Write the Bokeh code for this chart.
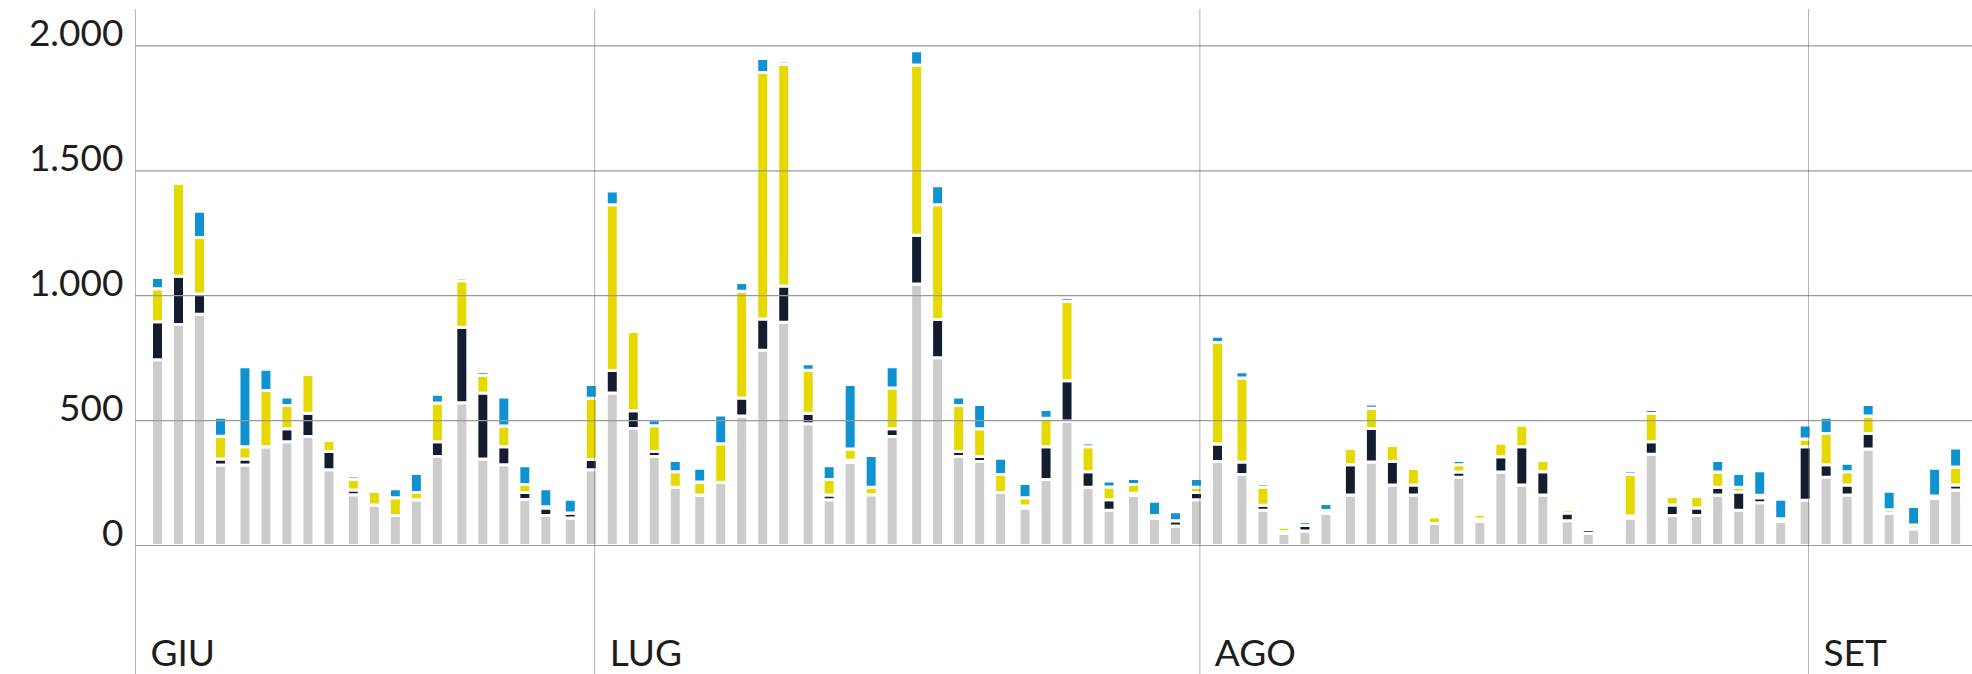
import numpy as np
from bokeh.plotting import figure
from bokeh.models import ColumnDataSource, Range1d
from bokeh.core.properties import value
from bokeh.embed import file_html
from bokeh.resources import INLINE

# ---- data ----
gray = [744, 885, 926, 322, 322, 395, 415, 436, 303, 203,
        162, 120, 183, 356, 571, 346, 323, 184, 120, 110,
        303, 610, 468, 356, 233, 202, 252, 518, 782, 894,
        487, 183, 333, 203, 436, 1047, 752, 356, 336, 212,
        150, 264, 498, 233, 141, 201, 108, 78, 183, 336,
        284, 141, 48, 58, 128, 202, 334, 242, 202, 88,
        273, 96, 294, 242, 202, 99, 49, 12, 110, 365,
        120, 120, 202, 141, 171, 97, 181, 273, 202, 386,
        128, 67, 188, 222, 240]
navy = [152, 193, 81, 24, 24, 0, 52, 93, 73, 19,
        0, 0, 0, 59, 303, 264, 72, 28, 30, 20,
        41, 91, 71, 20, 0, 0, 0, 72, 125, 145,
        42, 19, 8, 0, 31, 195, 153, 20, 20, 0,
        8, 131, 162, 62, 42, 8, 0, 21, 29, 70,
        50, 20, 8, 22, 0, 121, 134, 94, 40, 0,
        21, 10, 61, 153, 93, 31, 16, 0, 8, 50,
        42, 30, 31, 73, 20, 10, 214, 50, 40, 62,
        0, 0, 0, 20, 44]
yellow = [132, 371, 226, 91, 49, 225, 93, 156, 45, 43,
          55, 71, 29, 155, 186, 71, 83, 32, 5, 0,
          245, 663, 318, 103, 62, 52, 155, 428, 987, 887,
          173, 62, 45, 30, 164, 682, 459, 184, 111, 72,
          33, 114, 317, 100, 51, 35, 12, 0, 21, 407,
          337, 73, 18, 0, 12, 65, 81, 65, 67, 27,
          29, 18, 55, 87, 45, 15, 0, 0, 166, 113,
          34, 46, 61, 19, 10, 0, 31, 125, 53, 70,
          15, 15, 10, 72, 134]
blue = [45, 0, 105, 76, 321, 86, 34, 0, 0, 14,
        0, 36, 76, 35, 13, 15, 116, 75, 72, 55,
        56, 55, 12, 24, 45, 55, 115, 35, 56, 13,
        26, 55, 259, 127, 85, 57, 76, 34, 97, 65,
        57, 35, 15, 15, 24, 24, 57, 36, 35, 25,
        25, 14, 0, 15, 28, 0, 17, 0, 0, 0,
        17, 0, 0, 0, 0, 0, 0, 0, 14, 16,
        0, 0, 46, 55, 98, 78, 56, 65, 34, 46,
        74, 74, 111, 76, 54]
week_sizes = [4, 5, 5, 5, 6, 5, 5, 5, 5, 5, 5, 5, 5, 6, 5, 5, 4]
month_labels = ["GIU", "LUG", "AGO", "SET"]
month_first_bar = [0, 20, 48, 76]
y_ticks = [0, 500, 1000, 1500, 2000]
y_tick_labels = ["0", "500", "1.000", "1.500", "2.000"]

# ---- layout / style ----
W, H = 1972, 674
UPP = 4.0032                     # value units per pixel
Y0 = -(H - 545) * UPP            # bottom of frame
Y1 = 2000 + 45.4 * UPP           # top of frame
X0, X1 = -157 / 21, (W - 157) / 21
GAP = 0.164
COLORS = ["#cccccc", "#141c30", "#e5d900", "#0f92d0"]
FONT = value("Lato")
TXT = "#1d1d1b"

group = np.repeat(np.arange(len(week_sizes)), week_sizes)
xpos = np.arange(len(gray)) + GAP * group

src = ColumnDataSource(dict(x=xpos, gray=gray, navy=navy, yellow=yellow, blue=blue))

p = figure(width=W, height=H, output_backend="svg", toolbar_location=None,
           x_range=Range1d(X0, X1), y_range=Range1d(Y0, Y1), min_border=0)
p.axis.visible = False
p.grid.visible = False
p.outline_line_color = None
p.background_fill_color = "white"

p.vbar_stack(["gray", "navy", "yellow", "blue"], x="x", width=0.57, color=COLORS,
             line_color="white", line_width=3, source=src)

x_left = xpos[0] - 1.05
# gridlines
p.segment(x0=[x_left] * len(y_ticks), x1=[X1] * len(y_ticks), y0=y_ticks, y1=y_ticks,
          line_color="#9a9a9a", line_width=1.2)

# month separators
line_top = Y1 - 8 * UPP
month_x = [x_left] + [xpos[i] + 0.16 for i in month_first_bar[1:]]
p.segment(x0=month_x, x1=month_x, y0=[Y0] * 4, y1=[line_top] * 4,
          line_color="#666666", line_width=1, line_dash="1 1")

# y labels (baseline on gridline)
p.text(x=[x_left] * len(y_ticks), y=y_ticks, text=y_tick_labels, text_align="right",
       text_baseline="middle", x_offset=-12, y_offset=-13,
       text_font=FONT, text_font_size="37px", text_color=TXT)

# month labels
p.text(x=month_x, y=[Y0] * 4, text=month_labels, text_align="left",
       text_baseline="middle", x_offset=15, y_offset=-23,
       text_font=FONT, text_font_size="37px", text_color=TXT)

open("out.html", "w").write(file_html(p, INLINE))
